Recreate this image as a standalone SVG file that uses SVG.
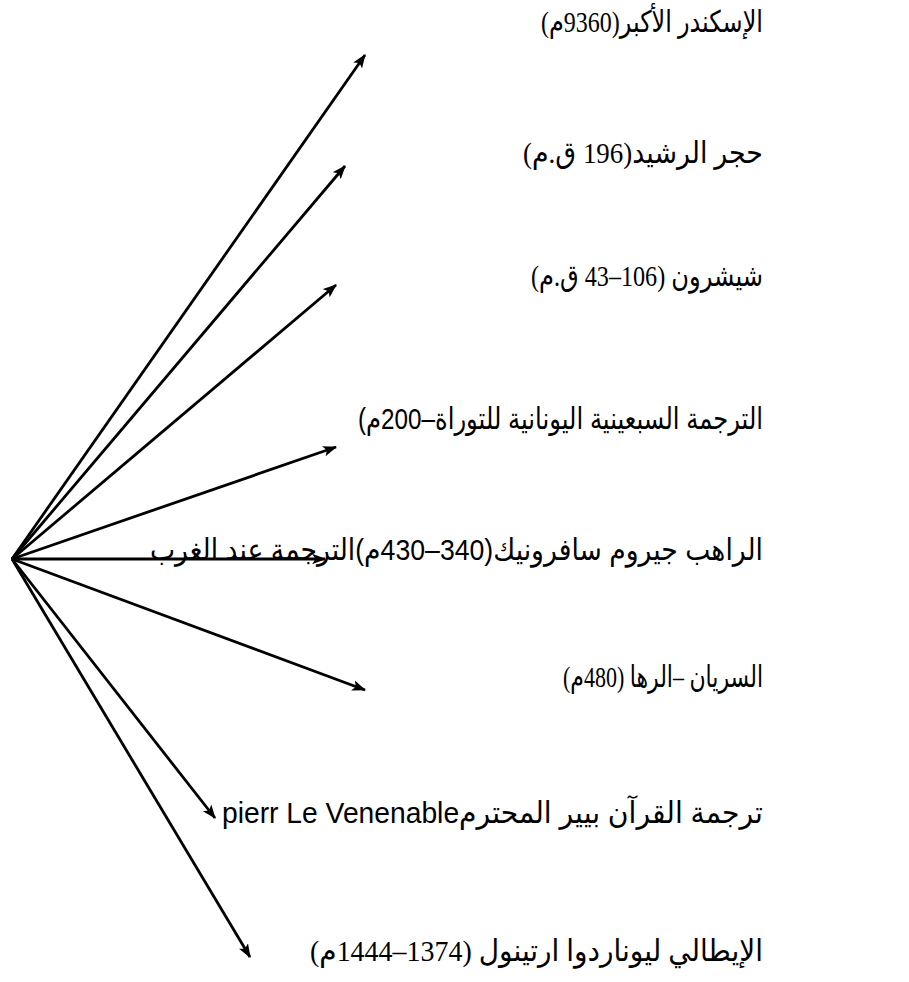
<svg xmlns="http://www.w3.org/2000/svg" width="909" height="982" viewBox="0 0 909 982">
<style>
  .t { font-size: 30px; fill: #000; direction: rtl; unicode-bidi: embed; }
  .serif { font-family: "Liberation Serif", "DejaVu Sans", serif; }
  .sans { font-family: "Liberation Sans", "DejaVu Sans", sans-serif; }
  .c { stroke: #000; stroke-width: 2.8; fill: none; marker-end: url(#ah); }
</style>
<defs>
  <marker id="ah" markerUnits="userSpaceOnUse" markerWidth="15" markerHeight="12" refX="12" refY="5" orient="auto" viewBox="0 0 14 10">
    <path d="M0,0 L13,5 L0,10 L3,5 z" fill="#000"/>
  </marker>
</defs>
<rect width="909" height="982" fill="#fff"/>
<g id="connectors">
  <line class="c" x1="12" y1="559" x2="365" y2="55"/>
  <line class="c" x1="12" y1="559" x2="345" y2="166"/>
  <line class="c" x1="12" y1="559" x2="336" y2="285"/>
  <line class="c" x1="12" y1="559" x2="336" y2="447"/>
  <line class="c" x1="12" y1="559" x2="325" y2="559"/>
  <line class="c" x1="12" y1="559" x2="365" y2="690"/>
  <line class="c" x1="12" y1="559" x2="215" y2="818"/>
  <line class="c" x1="12" y1="559" x2="250" y2="957"/>
</g>
<g id="n1"><text class="t serif" x="763" y="32" text-anchor="start" textLength="222" lengthAdjust="spacingAndGlyphs">الإسكندر الأكبر(9360م)</text></g>
<g id="n2"><text class="t serif" x="763" y="163" text-anchor="start" textLength="240" lengthAdjust="spacingAndGlyphs">حجر الرشيد(196 ق.م)</text></g>
<g id="n3"><text class="t serif" x="763" y="286" text-anchor="start" textLength="232" lengthAdjust="spacingAndGlyphs">شيشرون (106–43 ق.م)</text></g>
<g id="n4"><text class="t sans" x="763" y="429" text-anchor="start" textLength="405" lengthAdjust="spacingAndGlyphs">الترجمة السبعينية اليونانية للتوراة–200م)</text></g>
<g id="n5"><text class="t sans" x="763" y="560" text-anchor="start" textLength="613" lengthAdjust="spacingAndGlyphs">الراهب جيروم سافرونيك(340–430م)الترجمة عند الغرب</text></g>
<g id="n6"><text class="t serif" x="763" y="687" text-anchor="start" textLength="200" lengthAdjust="spacingAndGlyphs">السريان –الرها (480م)</text></g>
<g id="n7"><text class="t sans" x="763" y="823" text-anchor="start" textLength="541" lengthAdjust="spacingAndGlyphs">ترجمة القرآن بيير المحترمpierr  Le Venenable</text></g>
<g id="n8"><text class="t serif" x="763" y="961" text-anchor="start" textLength="453" lengthAdjust="spacingAndGlyphs">الإيطالي ليوناردوا ارتينول (1374–1444م)</text></g>
</svg>
